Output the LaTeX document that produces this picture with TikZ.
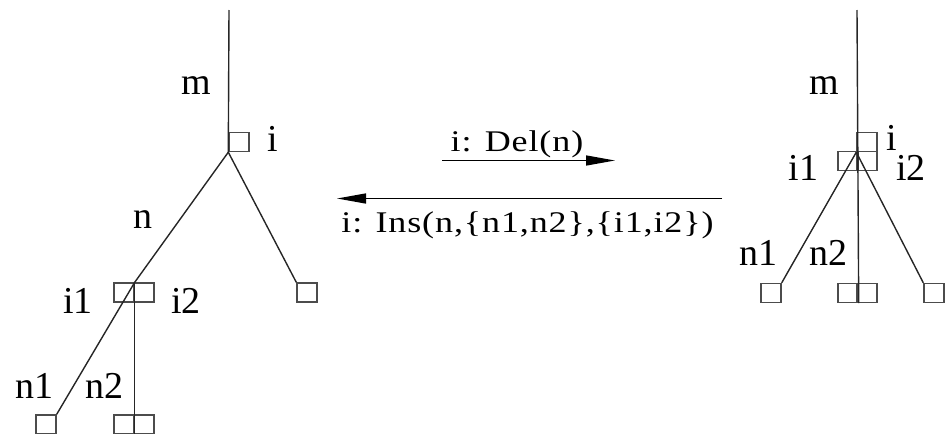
\documentclass[tikz,border=0pt]{standalone}
\usepackage{fontspec}
\setmainfont{Liberation Serif}
\newfontfamily\oplabelfont[FakeStretch=1.2, LetterSpace=3]{Liberation Serif}
\usetikzlibrary{arrows.meta, positioning}
\tikzset{
  slotbox/.style={draw=black!70, line width=0.7pt, minimum width=10pt, minimum height=9.5pt, inner sep=0pt},
  treeedge/.style={line width=0.7pt, color=black!85},
  edgelabel/.style={font=\fontsize{19}{22}\selectfont, inner sep=0pt, anchor=base},
  oplabel/.style={font=\oplabelfont\fontsize{15}{18}\selectfont, inner sep=0pt, anchor=base},
  oparrow/.style={-{Triangle[length=14.5pt,width=5pt]}, line width=0.7pt},
}

\begin{document}
\begin{tikzpicture}[x=0.5pt, y=-0.5pt]
  \useasboundingbox (0,0) rectangle (949,434);

  % left tree
  \coordinate (ltop) at (229,10);
  \node[slotbox] (li) at (239,142) {};
  \node[slotbox] (li1) at (124,292.5) {};
  \node[slotbox] (li2) at (144,292.5) {};
  \node[slotbox] (lr) at (307,292.5) {};
  \node[slotbox] (ln1) at (46,424.5) {};
  \node[slotbox] (ln2a) at (124,424.5) {};
  \node[slotbox] (ln2b) at (144,424.5) {};

  \draw[treeedge] (ltop) -- (li.south west);
  \draw[treeedge] (li.south west) -- (li1.north east);
  \draw[treeedge] (li.south west) -- (lr.north west);
  \draw[treeedge] (li1.north east) -- (ln1.north east);
  \draw[treeedge] (li1.north east) -- (ln2a.south east);

  \node[edgelabel] (lm) at (196,94) {m};
  \node[edgelabel] (lil) at (272.5,151) {i};
  \node[edgelabel] (lnl) at (143,228) {n};
  \node[edgelabel] (li1l) at (78,313) {i1};
  \node[edgelabel] (li2l) at (186,313) {i2};
  \node[edgelabel] (ln1l) at (35,398) {n1};
  \node[edgelabel] (ln2l) at (104,398) {n2};

  % right tree
  \coordinate (rtop) at (857,10);
  \node[slotbox] (ri) at (867,142) {};
  \node[slotbox] (ri1) at (848,161) {};
  \node[slotbox] (ri2) at (867,161) {};
  \node[slotbox] (rn1) at (771,293) {};
  \node[slotbox] (rn2a) at (848,293) {};
  \node[slotbox] (rn2b) at (867,293) {};
  \node[slotbox] (rr) at (934,293) {};

  \draw[treeedge] (rtop) -- (rn2a.south east);
  \draw[treeedge] (ri.south west) -- (rn1.north east);
  \draw[treeedge] (ri.south west) -- (rr.north west);

  \node[edgelabel] (rm) at (824.5,94) {m};
  \node[edgelabel] (ril) at (891.5,150) {i};
  \node[edgelabel] (ri1l) at (803.5,180) {i1};
  \node[edgelabel] (ri2l) at (911,180) {i2};
  \node[edgelabel] (rn1l) at (758.5,265) {n1};
  \node[edgelabel] (rn2l) at (828.5,265) {n2};

  % operations
  \coordinate (delstart) at (442,160.5);
  \coordinate (delend) at (615,160.5);
  \coordinate (insstart) at (722,198.5);
  \coordinate (insend) at (337,198.5);
  \draw[oparrow] (delstart) -- (delend);
  \draw[oparrow] (insstart) -- (insend);
  \node[oplabel] (dellabel) at (517,151) {i: Del(n)};
  \node[oplabel] (inslabel) at (527.5,232) {i: Ins(n,\{n1,n2\},\{i1,i2\})};
\end{tikzpicture}
\end{document}
